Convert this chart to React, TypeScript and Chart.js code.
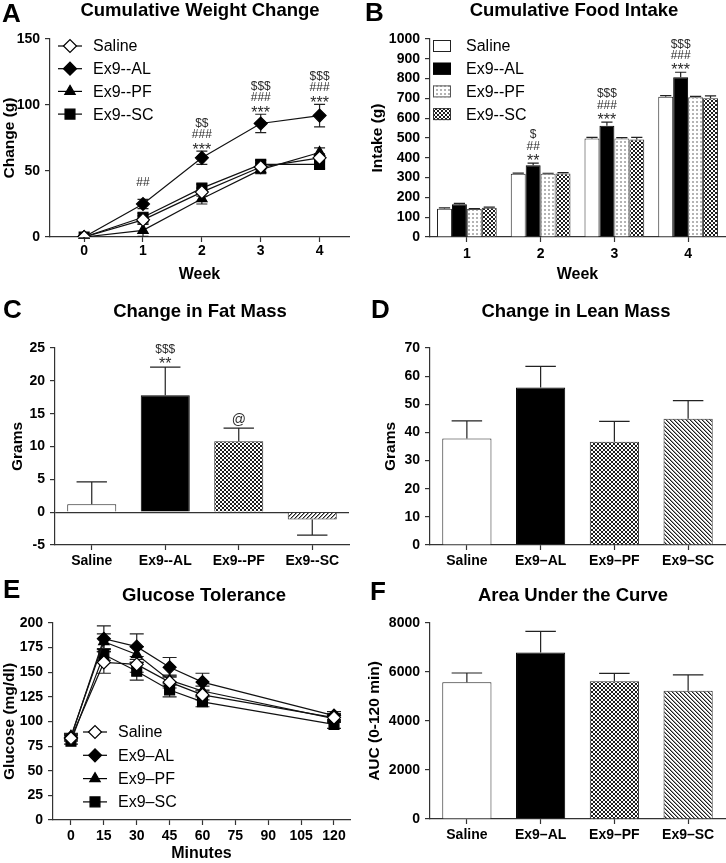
import React, { useEffect, useRef } from 'react';
import { Chart, registerables } from 'chart.js';
import { drawPoint } from 'chart.js/helpers';

Chart.register(...registerables);

const FONT = '"Liberation Sans", Arial, Helvetica, sans-serif';
const AXIS_COLOR = '#333333';

// ---------------- Panel A: Cumulative Weight Change ----------------
const weekValues = [0, 1, 2, 3, 4];
const weekTickValues = [0, 1, 2, 3, 4];
const weightTickValues = [0, 50, 100, 150];
const lineLabelsA = ['Saline', 'Ex9--AL', 'Ex9--PF', 'Ex9--SC'];
const weightSaline = [0, 13, 34, 53, 60];
const weightSalineErr = [1, 3, 3, 3, 3];
const weightAL = [0, 25, 60, 86, 92];
const weightALErr = [1, 3.5, 5, 7, 8.5];
const weightPF = [0, 5, 29, 51, 64];
const weightPFErr = [1, 4.5, 4, 3, 3.5];
const weightSC = [0, 15, 37, 55, 55];
const weightSCErr = [1, 3, 3, 3, 3];
const weightStars = ['', '', '***', '***', '***'];
const weightHashes = ['', '##', '###', '###', '###'];
const weightDollars = ['', '', '$$', '$$$', '$$$'];

// ---------------- Panel B: Cumulative Food Intake ----------------
const intakeWeeks = ['1', '2', '3', '4'];
const intakeTickValues = [0, 100, 200, 300, 400, 500, 600, 700, 800, 900, 1000];
const barLabelsB = ['Saline', 'Ex9--AL', 'Ex9--PF', 'Ex9--SC'];
const intakeSaline = [143, 319, 498, 708];
const intakeSalineErr = [4, 4, 5, 6];
const intakeAL = [165, 363, 562, 807];
const intakeALErr = [5, 10, 18, 25];
const intakePF = [141, 319, 498, 706];
const intakePFErr = [3, 3, 4, 4];
const intakeSC = [148, 321, 493, 701];
const intakeSCErr = [3, 4, 10, 12];
const intakeStars = ['', '**', '***', '***'];
const intakeHashes = ['', '##', '###', '###'];
const intakeDollars = ['', '$', '$$$', '$$$'];

// ---------------- Panel C: Change in Fat Mass ----------------
const groupsC = ['Saline', 'Ex9--AL', 'Ex9--PF', 'Ex9--SC'];
const fatTickValues = [-5, 0, 5, 10, 15, 20, 25];
const fatMass = [1.2, 17.8, 10.8, -1.1];
const fatMassErr = [3.4, 4.3, 2.0, 2.4];
const fatSigRow1 = ['', '**', '@', ''];
const fatSigRow2 = ['', '$$$', '', ''];

// ---------------- Panel D: Change in Lean Mass ----------------
const groupsD = ['Saline', 'Ex9\u2013AL', 'Ex9\u2013PF', 'Ex9\u2013SC'];
const leanTickValues = [0, 10, 20, 30, 40, 50, 60, 70];
const leanMass = [37.8, 56.0, 36.7, 44.9];
const leanMassErr = [6.3, 7.5, 7.2, 6.4];

// ---------------- Panel E: Glucose Tolerance ----------------
const glucoseMinutes = [0, 15, 30, 45, 60, 120];
const minuteTickValues = [0, 15, 30, 45, 60, 75, 90, 105, 120];
const glucoseTickValues = [0, 25, 50, 75, 100, 125, 150, 175, 200];
const lineLabelsE = ['Saline', 'Ex9\u2013AL', 'Ex9\u2013PF', 'Ex9\u2013SC'];
const glucoseSaline = [83, 160, 158, 140, 127, 104];
const glucoseSalineErr = [3, 11, 8, 6, 5, 4];
const glucoseAL = [84, 184, 176, 155, 140, 106];
const glucoseALErr = [3, 13, 13, 10, 9, 4];
const glucosePF = [85, 181, 168, 142, 131, 103];
const glucosePFErr = [3, 8, 8, 5, 5, 4];
const glucoseSC = [80, 168, 151, 132, 120, 97];
const glucoseSCErr = [3, 6, 9, 7, 5, 4];

// ---------------- Panel F: Area Under the Curve ----------------
const groupsF = ['Saline', 'Ex9\u2013AL', 'Ex9\u2013PF', 'Ex9\u2013SC'];
const aucTickValues = [0, 2000, 4000, 6000, 8000];
const aucValues = [5580, 6800, 5620, 5230];
const aucErr = [380, 860, 320, 650];

// ---------------- helpers ----------------
function makePattern(kind: string): any {
  const c = document.createElement('canvas');
  c.width = 4;
  c.height = 4;
  const g = c.getContext('2d')!;
  g.fillStyle = '#ffffff';
  g.fillRect(0, 0, 4, 4);
  if (kind === 'checker') {
    g.fillStyle = '#1e1e1e';
    g.fillRect(0, 0, 2, 2);
    g.fillRect(2, 2, 2, 2);
  } else if (kind === 'dots') {
    g.fillStyle = '#b4b4b4';
    g.fillRect(1, 1, 2, 2);
  } else if (kind === 'hatchDown') {
    for (let i = 0; i < 4; i++) {
      g.fillStyle = '#1e1e1e';
      g.fillRect(i, i, 1, 1);
      g.fillStyle = '#9a9a9a';
      g.fillRect((i + 1) % 4, i, 1, 1);
    }
  } else if (kind === 'hatchUp') {
    for (let i = 0; i < 4; i++) {
      g.fillStyle = '#1e1e1e';
      g.fillRect(3 - i, i, 1, 1);
      g.fillStyle = '#9a9a9a';
      g.fillRect((4 - i) % 4, i, 1, 1);
    }
  }
  return g.createPattern(c, 'repeat');
}

function valOf(raw: any): number {
  return typeof raw === 'number' ? raw : raw.y;
}

function drawErrorBars(chart: any) {
  const { ctx } = chart;
  const yScale = chart.scales.y;
  chart.data.datasets.forEach((ds: any, di: number) => {
    if (!ds.errors) return;
    const meta = chart.getDatasetMeta(di);
    ctx.save();
    ctx.strokeStyle = '#222';
    ctx.lineWidth = 1.2;
    meta.data.forEach((el: any, i: number) => {
      const v = valOf(ds.data[i]);
      const e = ds.errors[i];
      if (!e) return;
      const x = el.x;
      const cap = ds.errorCapFrac ? (el.width * ds.errorCapFrac) / 2 : ds.errorCap / 2;
      const ends = ds.errorMode === 'both' ? [v + e, v - e] : [v >= 0 ? v + e : v - e];
      const y0 = yScale.getPixelForValue(v);
      ends.forEach((end: number) => {
        const y1 = yScale.getPixelForValue(end);
        ctx.beginPath();
        ctx.moveTo(x, y0);
        ctx.lineTo(x, y1);
        ctx.moveTo(x - cap, y1);
        ctx.lineTo(x + cap, y1);
        ctx.stroke();
      });
    });
    ctx.restore();
  });
}

const errorBarPlugin = {
  id: 'errorBars',
  beforeDatasetsDraw(chart: any) {
    if (chart.config.type === 'line') drawErrorBars(chart);
  },
  afterDatasetsDraw(chart: any) {
    if (chart.config.type !== 'line') drawErrorBars(chart);
  },
};

const sigPlugin = {
  id: 'sigMarks',
  afterDatasetsDraw(chart: any) {
    const { ctx } = chart;
    const yScale = chart.scales.y;
    chart.data.datasets.forEach((ds: any, di: number) => {
      if (!ds.sigRows) return;
      const meta = chart.getDatasetMeta(di);
      ctx.save();
      ctx.fillStyle = '#2a2a2a';
      ctx.textAlign = 'center';
      ctx.textBaseline = 'middle';
      ds.sigRows.forEach((row: string[], r: number) => {
        row.forEach((txt: string, i: number) => {
          if (!txt) return;
          const v = valOf(ds.data[i]);
          const e = ds.errors ? ds.errors[i] : 0;
          let y = yScale.getPixelForValue(v + e) - ds.sigOffsets[r];
          let size = 12;
          if (txt.indexOf('*') >= 0) {
            size = 16;
            y += 4;
          } else if (txt.indexOf('@') >= 0) {
            size = 14;
            y -= 2;
          }
          ctx.font = `${size}px ${FONT}`;
          ctx.fillText(txt, meta.data[i].x, y);
        });
      });
      ctx.restore();
    });
  },
};

const legendPlugin = {
  id: 'panelLegend',
  afterDraw(chart: any, _args: any, opts: any) {
    if (!opts || !opts.show) return;
    const { ctx, chartArea } = chart;
    ctx.save();
    chart.data.datasets.forEach((ds: any, i: number) => {
      const y = chartArea.top + opts.y + i * opts.rowHeight;
      const mx = chartArea.left + opts.x;
      if (opts.kind === 'line') {
        ctx.strokeStyle = '#000';
        ctx.lineWidth = 1.2;
        ctx.beginPath();
        ctx.moveTo(mx - opts.lineHalf, y);
        ctx.lineTo(mx + opts.lineHalf, y);
        ctx.stroke();
        ctx.fillStyle = ds.pointBackgroundColor;
        ctx.strokeStyle = '#000';
        ctx.lineWidth = ds.pointBorderWidth;
        drawPoint(ctx, { pointStyle: ds.pointStyle, radius: ds.pointRadius, rotation: 0, borderWidth: ds.pointBorderWidth } as any, mx, y);
      } else {
        const w = opts.boxW;
        const h = opts.boxH;
        ctx.fillStyle = ds.backgroundColor;
        ctx.fillRect(mx - w / 2, y - h / 2, w, h);
        ctx.strokeStyle = ds.legendBorder || '#222';
        ctx.lineWidth = 1;
        ctx.strokeRect(mx - w / 2 + 0.5, y - h / 2 + 0.5, w - 1, h - 1);
      }
      ctx.fillStyle = '#000';
      ctx.font = `${opts.fontSize}px ${FONT}`;
      ctx.textAlign = 'left';
      ctx.textBaseline = 'middle';
      ctx.fillText(ds.label, chartArea.left + opts.textX, y + 1);
    });
    ctx.restore();
  },
};

const tickFont = { family: FONT, size: 14, weight: 'bold' as const };
const axisTitleFont = { family: FONT, size: 15.5, weight: 'bold' as const };
const plainNumber = (v: any) => String(v);

function yAxis(p: { min: number; max: number; tickValues: number[]; title: string; titlePad: number; width: number; zeroLine?: boolean }) {
  return {
    type: 'linear',
    min: p.min,
    max: p.max,
    afterBuildTicks: (s: any) => {
      s.ticks = p.tickValues.map((v) => ({ value: v }));
    },
    afterFit: (s: any) => {
      s.width = p.width;
    },
    border: { display: true, color: AXIS_COLOR, width: 1.2 },
    grid: {
      drawOnChartArea: !!p.zeroLine,
      drawTicks: true,
      tickLength: 5,
      tickColor: AXIS_COLOR,
      tickWidth: 1.2,
      lineWidth: 1.2,
      color: (c: any) => (p.zeroLine && c.tick && c.tick.value === 0 ? AXIS_COLOR : 'rgba(0,0,0,0)'),
    },
    ticks: { color: '#000', font: tickFont, padding: 5, autoSkip: false, callback: plainNumber },
    title: { display: true, text: p.title, color: '#000', font: axisTitleFont, padding: { top: p.titlePad, bottom: 0 } },
  };
}

function xAxisBase(height: number, labelPad: number, title?: string, titlePad?: number) {
  return {
    afterFit: (s: any) => {
      s.height = height;
    },
    border: { display: true, color: AXIS_COLOR, width: 1.2 },
    grid: { drawOnChartArea: false, drawTicks: true, tickLength: 5, tickColor: AXIS_COLOR, tickWidth: 1.2, offset: false },
    ticks: { color: '#000', font: tickFont, padding: labelPad, autoSkip: false, maxRotation: 0 },
    title: title
      ? { display: true, text: title, color: '#000', font: { family: FONT, size: 16, weight: 'bold' as const }, padding: { top: 0, bottom: titlePad } }
      : { display: false },
  };
}

function baseOptions(padding: any) {
  return {
    responsive: false,
    animation: false,
    devicePixelRatio: 1,
    events: [],
    layout: { padding },
  };
}

const plugins = [errorBarPlugin, sigPlugin, legendPlugin];

function lineDataset(label: string, xs: number[], ys: number[], errs: number[], style: string, fill: string, radius: number, cap: number) {
  return {
    label,
    data: xs.map((x, i) => ({ x, y: ys[i] })),
    errors: errs,
    errorMode: 'both',
    errorCap: cap,
    borderColor: '#111',
    borderWidth: 1.2,
    pointStyle: style,
    pointRadius: radius,
    pointBackgroundColor: fill,
    pointBorderColor: '#000',
    pointBorderWidth: 1.2,
    tension: 0,
    fill: false,
  };
}

// ---------------- chart configs ----------------
function configA(): any {
  const ds = [
    lineDataset(lineLabelsA[0], weekValues, weightSaline, weightSalineErr, 'rectRot', '#ffffff', 6.5, 11),
    lineDataset(lineLabelsA[1], weekValues, weightAL, weightALErr, 'rectRot', '#000000', 6.5, 11),
    lineDataset(lineLabelsA[2], weekValues, weightPF, weightPFErr, 'triangle', '#000000', 6, 11),
    lineDataset(lineLabelsA[3], weekValues, weightSC, weightSCErr, 'rect', '#000000', 7, 11),
  ];
  (ds[1] as any).sigRows = [weightStars, weightHashes, weightDollars];
  (ds[1] as any).sigOffsets = [5, 16.5, 28];
  return {
    type: 'line',
    data: { datasets: ds },
    plugins,
    options: {
      ...baseOptions({ left: 0, right: 14, top: 39, bottom: 0 }),
      plugins: {
        legend: { display: false },
        tooltip: { enabled: false },
        panelLegend: { show: true, kind: 'line', x: 20, y: 7, rowHeight: 22.7, lineHalf: 12, textX: 43, fontSize: 16 },
      },
      scales: {
        x: {
          type: 'linear',
          min: -0.58,
          max: 4.5,
          afterBuildTicks: (s: any) => {
            s.ticks = weekTickValues.map((v) => ({ value: v }));
          },
          ...xAxisBase(53, 1, 'Week', 5.4),
        },
        y: yAxis({ min: 0, max: 150, tickValues: weightTickValues, title: 'Change (g)', titlePad: 0, width: 50 }),
      },
    },
  };
}

function configB(): any {
  const dots = makePattern('dots');
  const checker = makePattern('checker');
  const mk = (label: string, data: number[], errs: number[], bg: any, border: string) => ({
    label,
    data,
    errors: errs,
    errorMode: 'up',
    errorCapFrac: 0.75,
    backgroundColor: bg,
    borderColor: border,
    legendBorder: border,
    borderWidth: 1,
    categoryPercentage: 0.81,
    barPercentage: 1,
  });
  const ds: any[] = [
    mk(barLabelsB[0], intakeSaline, intakeSalineErr, '#ffffff', '#222'),
    mk(barLabelsB[1], intakeAL, intakeALErr, '#000000', '#000'),
    mk(barLabelsB[2], intakePF, intakePFErr, dots, '#555'),
    mk(barLabelsB[3], intakeSC, intakeSCErr, checker, '#333'),
  ];
  ds[1].sigRows = [intakeStars, intakeHashes, intakeDollars];
  ds[1].sigOffsets = [5.5, 16.5, 28];
  return {
    type: 'bar',
    data: { labels: intakeWeeks, datasets: ds },
    plugins,
    options: {
      ...baseOptions({ left: 0, right: 1, top: 39, bottom: 0 }),
      plugins: {
        legend: { display: false },
        tooltip: { enabled: false },
        panelLegend: { show: true, kind: 'box', x: 12, y: 7, rowHeight: 22.7, boxW: 18, boxH: 12, textX: 36, fontSize: 16 },
      },
      scales: {
        x: { type: 'category', ...xAxisBase(53, 3.4, 'Week', 5.4) },
        y: yAxis({ min: 0, max: 1000, tickValues: intakeTickValues, title: 'Intake (g)', titlePad: 5.7, width: 67 }),
      },
    },
  };
}

function singleBarConfig(p: {
  labels: string[];
  values: number[];
  errs: number[];
  hatch: string;
  padding: any;
  yMin: number;
  yMax: number;
  ticks: number[];
  yTitle: string;
  yTitlePad: number;
  yWidth: number;
  xHeight: number;
  xPad: number;
  zeroLine?: boolean;
  sigRows?: string[][];
}): any {
  const ds: any = {
    label: p.yTitle,
    data: p.values,
    errors: p.errs,
    errorMode: 'up',
    errorCapFrac: 0.62,
    backgroundColor: ['#ffffff', '#000000', makePattern('checker'), makePattern(p.hatch)],
    borderColor: ['#222', '#000', '#333', '#333'],
    borderWidth: 1,
    barPercentage: 0.667,
    categoryPercentage: 1,
  };
  if (p.sigRows) {
    ds.sigRows = p.sigRows;
    ds.sigOffsets = [6, 17.5];
  }
  return {
    type: 'bar',
    data: { labels: p.labels, datasets: [ds] },
    plugins,
    options: {
      ...baseOptions(p.padding),
      plugins: { legend: { display: false }, tooltip: { enabled: false } },
      scales: {
        x: { type: 'category', ...xAxisBase(p.xHeight, p.xPad) },
        y: yAxis({ min: p.yMin, max: p.yMax, tickValues: p.ticks, title: p.yTitle, titlePad: p.yTitlePad, width: p.yWidth, zeroLine: p.zeroLine }),
      },
    },
  };
}

function configC(): any {
  return singleBarConfig({
    labels: groupsC,
    values: fatMass,
    errs: fatMassErr,
    hatch: 'hatchUp',
    padding: { left: 0, right: 14, top: 63, bottom: 0 },
    yMin: -5,
    yMax: 25,
    ticks: fatTickValues,
    yTitle: 'Grams',
    yTitlePad: 8.7,
    yWidth: 55,
    xHeight: 30,
    xPad: 3,
    zeroLine: true,
    sigRows: [fatSigRow1, fatSigRow2],
  });
}

function configD(): any {
  return singleBarConfig({
    labels: groupsD,
    values: leanMass,
    errs: leanMassErr,
    hatch: 'hatchDown',
    padding: { left: 0, right: 1, top: 63, bottom: 0 },
    yMin: 0,
    yMax: 70,
    ticks: leanTickValues,
    yTitle: 'Grams',
    yTitlePad: 18.7,
    yWidth: 67,
    xHeight: 30,
    xPad: 3,
  });
}

function configE(): any {
  const ds = [
    lineDataset(lineLabelsE[0], glucoseMinutes, glucoseSaline, glucoseSalineErr, 'rectRot', '#ffffff', 6.5, 14),
    lineDataset(lineLabelsE[1], glucoseMinutes, glucoseAL, glucoseALErr, 'rectRot', '#000000', 6.5, 14),
    lineDataset(lineLabelsE[2], glucoseMinutes, glucosePF, glucosePFErr, 'triangle', '#000000', 6, 14),
    lineDataset(lineLabelsE[3], glucoseMinutes, glucoseSC, glucoseSCErr, 'rect', '#000000', 7, 14),
  ];
  return {
    type: 'line',
    data: { datasets: ds },
    plugins,
    options: {
      ...baseOptions({ left: 0, right: 13, top: 48, bottom: 0 }),
      plugins: {
        legend: { display: false },
        tooltip: { enabled: false },
        panelLegend: { show: true, kind: 'line', x: 42, y: 109, rowHeight: 23.3, lineHalf: 12, textX: 65, fontSize: 16 },
      },
      scales: {
        x: {
          type: 'linear',
          min: -8.2,
          max: 127.3,
          afterBuildTicks: (s: any) => {
            s.ticks = minuteTickValues.map((v) => ({ value: v }));
          },
          ...xAxisBase(43, 2.4, 'Minutes', 0),
        },
        y: yAxis({ min: 0, max: 200, tickValues: glucoseTickValues, title: 'Glucose (mg/dl)', titlePad: 0, width: 53 }),
      },
    },
  };
}

function configF(): any {
  return singleBarConfig({
    labels: groupsF,
    values: aucValues,
    errs: aucErr,
    hatch: 'hatchDown',
    padding: { left: 0, right: 1, top: 48, bottom: 0 },
    yMin: 0,
    yMax: 8000,
    ticks: aucTickValues,
    yTitle: 'AUC (0-120 min)',
    yTitlePad: 2.7,
    yWidth: 67,
    xHeight: 44,
    xPad: 2.4,
  });
}

// ---------------- components ----------------
function ChartPanel(props: { left: number; top: number; width: number; height: number; make: () => any }) {
  const ref = useRef<HTMLCanvasElement>(null);
  useEffect(() => {
    const chart = new Chart(ref.current!, props.make());
    return () => chart.destroy();
  }, []);
  return (
    <canvas
      ref={ref}
      width={props.width}
      height={props.height}
      style={{ position: 'absolute', left: props.left, top: props.top, width: props.width, height: props.height }}
    />
  );
}

const letterStyle: React.CSSProperties = {
  position: 'absolute',
  fontFamily: FONT,
  fontWeight: 'bold',
  fontSize: 26,
  lineHeight: 1,
  color: '#000',
  whiteSpace: 'nowrap',
};

const titleStyle: React.CSSProperties = {
  position: 'absolute',
  fontFamily: FONT,
  fontWeight: 'bold',
  fontSize: 18.5,
  lineHeight: 1,
  color: '#000',
  whiteSpace: 'nowrap',
  transform: 'translateX(-50%)',
};

export default function App() {
  Chart.defaults.font.family = FONT;
  return (
    <div style={{ position: 'absolute', left: 0, top: 0, width: 726, height: 863, background: '#fff', overflow: 'hidden' }}>
      <ChartPanel left={0} top={0} width={363} height={290} make={configA} />
      <ChartPanel left={363} top={0} width={363} height={290} make={configB} />
      <ChartPanel left={0} top={285} width={363} height={290} make={configC} />
      <ChartPanel left={363} top={285} width={363} height={290} make={configD} />
      <ChartPanel left={0} top={575} width={363} height={288} make={configE} />
      <ChartPanel left={363} top={575} width={363} height={288} make={configF} />

      <div style={{ ...letterStyle, left: 2, top: 0 }}>A</div>
      <div style={{ ...letterStyle, left: 365, top: -1 }}>B</div>
      <div style={{ ...letterStyle, left: 3, top: 296 }}>C</div>
      <div style={{ ...letterStyle, left: 371, top: 296 }}>D</div>
      <div style={{ ...letterStyle, left: 3, top: 576 }}>E</div>
      <div style={{ ...letterStyle, left: 370, top: 578 }}>F</div>

      <div style={{ ...titleStyle, left: 200, top: 1.3 }}>Cumulative Weight Change</div>
      <div style={{ ...titleStyle, left: 574, top: 1.3 }}>Cumulative Food Intake</div>
      <div style={{ ...titleStyle, left: 200, top: 302.3 }}>Change in Fat Mass</div>
      <div style={{ ...titleStyle, left: 576, top: 302.3 }}>Change in Lean Mass</div>
      <div style={{ ...titleStyle, left: 204, top: 586.3 }}>Glucose Tolerance</div>
      <div style={{ ...titleStyle, left: 573, top: 586.3 }}>Area Under the Curve</div>
    </div>
  );
}
